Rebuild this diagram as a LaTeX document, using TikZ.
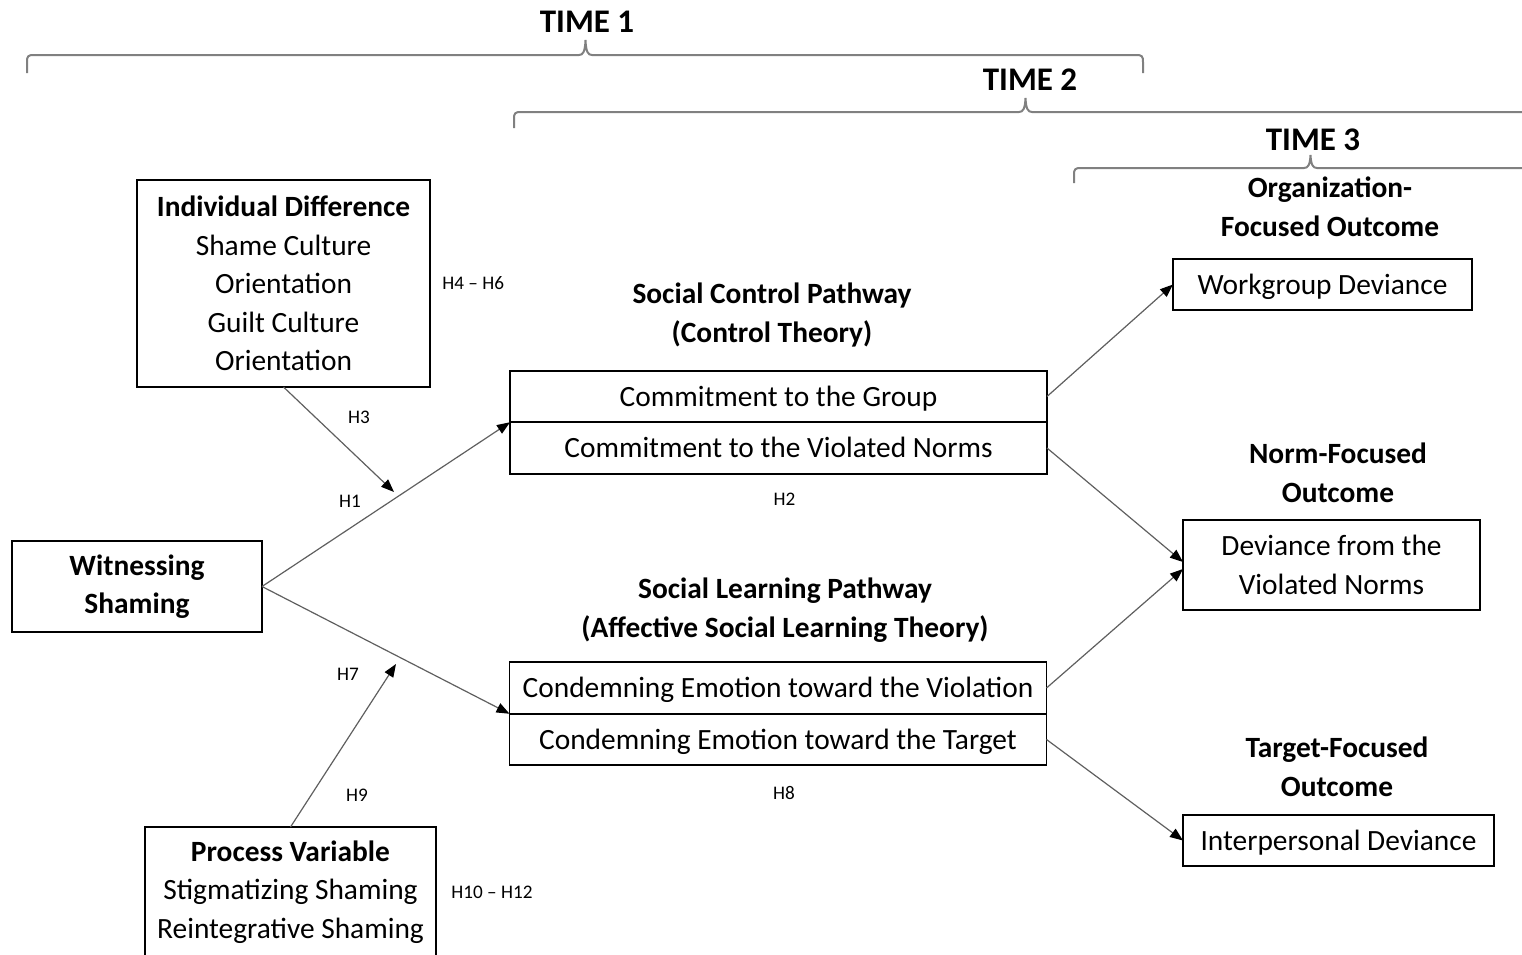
\documentclass[tikz,border=0pt]{standalone}
\usepackage{fontspec}
\setmainfont{Carlito}
\usetikzlibrary{positioning,arrows.meta,calc}

\definecolor{bracegray}{HTML}{808080}
\definecolor{linegray}{HTML}{5F5F5F}

\tikzset{
  box/.style={draw=black, line width=0.8pt, align=center, inner sep=0pt, outer sep=0pt,
    font=\fontsize{14.7}{19.25}\selectfont},
  single/.style={box, text height=11pt, text depth=1.5pt},
  cell/.style={single, minimum width=268.5pt, minimum height=25.75pt},
  head/.style={align=center, inner sep=0pt, font=\fontsize{14.7}{19.25}\selectfont\bfseries},
  hyp/.style={inner sep=0pt, font=\fontsize{9.6}{11}\selectfont},
  timelabel/.style={inner sep=0pt, font=\fontsize{16.5}{19}\selectfont\bfseries},
  timebrace/.style={draw=bracegray, line width=1pt},
  link/.style={draw=linegray, line width=0.6pt, -{Triangle[length=6.5pt,width=5pt,color=black]}}
}

\begin{document}
\begin{tikzpicture}[x=0.5pt, y=-0.5pt]
  \useasboundingbox (0,0) rectangle (1522,954);

  % time spans
  \node[timelabel] (t1) at (587,22) {TIME 1};
  \node[timelabel] (t2) at (1030,80) {TIME 2};
  \node[timelabel] (t3) at (1313,140) {TIME 3};
  \draw[timebrace] (27,73) -- (27,62) .. controls (27,56) and (28,55) .. (34,55) -- (579,55)
    .. controls (583,55) and (585,52) .. (585.5,40) .. controls (586,52) and (588,55) .. (592,55)
    -- (1136,55) .. controls (1142,55) and (1143,56) .. (1143,62) -- (1143,73);
  \draw[timebrace] (514,128) -- (514,119) .. controls (514,113) and (515,112) .. (521,112) -- (1019,112)
    .. controls (1023,112) and (1025,109) .. (1025.5,98) .. controls (1026,109) and (1028,112) .. (1032,112)
    -- (1522,112);
  \draw[timebrace] (1074,183) -- (1074,175) .. controls (1074,169) and (1075,168) .. (1081,168) -- (1304,168)
    .. controls (1308,168) and (1310,165) .. (1310.5,155) .. controls (1311,165) and (1313,168) .. (1317,168)
    -- (1522,168);

  % predictors and moderators
  \node[box, minimum width=146.5pt, minimum height=103.5pt] (ind) at (283.5,283.5)
    {\textbf{Individual Difference}\\Shame Culture\\Orientation\\Guilt Culture\\Orientation};
  \node[box, minimum width=125pt, minimum height=45.5pt] (wit) at (137,586.5)
    {\textbf{Witnessing}\\\textbf{Shaming}};
  \node[box, minimum width=145.5pt, minimum height=65pt] (proc) at (290.5,892)
    {\textbf{Process Variable}\\Stigmatizing Shaming\\Reintegrative Shaming};

  % mediators
  \node[head] (ctrl) at (772,315) {Social Control Pathway\\(Control Theory)};
  \node[cell] (cg) at (778.5,396.5) {Commitment to the Group};
  \node[cell, below=0pt of cg] (cn) {Commitment to the Violated Norms};
  \node[head] (learn) at (785,610) {Social Learning Pathway\\(Affective Social Learning Theory)};
  \node[cell] (ev) at (778,688) {Condemning Emotion toward the Violation};
  \node[cell, below=0pt of ev] (et) {Condemning Emotion toward the Target};

  % outcomes
  \node[head] (orgh) at (1330,207) {Organization-\\Focused Outcome};
  \node[single, minimum width=149.5pt, minimum height=25.5pt] (wd) at (1322.5,284.5) {Workgroup Deviance};
  \node[head] (normh) at (1338,473) {Norm-Focused\\Outcome};
  \node[box, minimum width=148.5pt, minimum height=45pt] (dn) at (1331.5,565)
    {Deviance from the\\Violated Norms};
  \node[head] (targh) at (1337,767) {Target-Focused\\Outcome};
  \node[single, minimum width=155.5pt, minimum height=25.5pt] (ip) at (1338.5,840.5) {Interpersonal Deviance};

  % hypotheses
  \node[hyp, right=6pt of ind] (h46) {H4 – H6};
  \node[hyp] (h3) at (359,417) {H3};
  \node[hyp] (h1) at (350,501) {H1};
  \node[hyp, below=9.5pt of cn, xshift=3pt] (h2) {H2};
  \node[hyp] (h7) at (348,674) {H7};
  \node[hyp, below=10.5pt of et, xshift=3pt] (h8) {H8};
  \node[hyp] (h9) at (357,795) {H9};
  \node[hyp, right=7.5pt of proc] (h1012) {H10 – H12};

  % paths
  \coordinate (m1) at (394,492);
  \coordinate (m2) at (396,664);
  \draw[link] (wit.east) -- (cg.south west);
  \draw[link] (wit.east) -- (ev.south west);
  \draw[link] (ind.south) -- (m1);
  \draw[link] (proc.north) -- (m2);
  \draw[link] (cg.east) -- (wd.west);
  \draw[link] (cn.east) -- ($(dn.west)+(0,-3)$);
  \draw[link] (ev.east) -- ($(dn.west)+(0,4)$);
  \draw[link] (et.east) -- (ip.west);
\end{tikzpicture}
\end{document}
